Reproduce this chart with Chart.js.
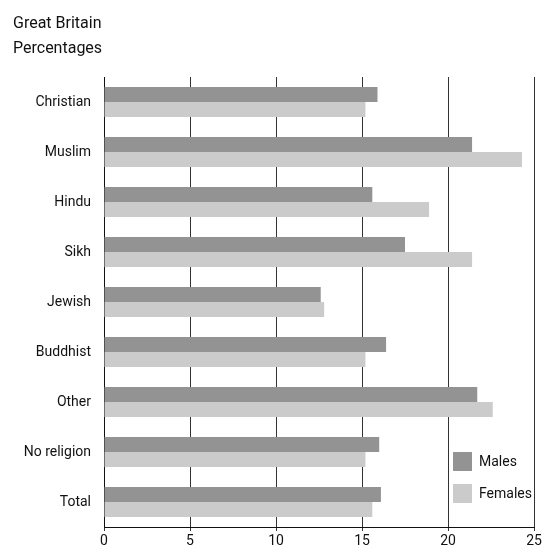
<!DOCTYPE html>
<html>
<head>
<meta charset="utf-8">
<script src="https://cdn.jsdelivr.net/npm/chart.js@4.4.1/dist/chart.umd.min.js"></script>
<style>
  html, body { margin: 0; padding: 0; background: #fff; }
  #wrap { width: 554px; height: 551px; position: relative; }
</style>
</head>
<body>
<div id="wrap"><canvas id="chart"></canvas></div>
<script>
// Données
const religions = ['Christian', 'Muslim', 'Hindu', 'Sikh', 'Jewish', 'Buddhist', 'Other', 'No religion', 'Total'];
const males = [15.9, 21.4, 15.6, 17.5, 12.6, 16.4, 21.7, 16.0, 16.1];
const females = [15.2, 24.3, 18.9, 21.4, 12.8, 15.2, 22.6, 15.2, 15.6];
const xTicks = [0, 5, 10, 15, 20, 25];
const titleLines = ['Great Britain', 'Percentages'];

const FONT = 'Roboto';

// Titre en haut à gauche
const titlePlugin = {
    id: 'titleLines',
    afterDraw(chart) {
        const ctx = chart.ctx;
        ctx.save();
        ctx.fillStyle = '#111';
        ctx.font = '16px ' + FONT;
        ctx.textBaseline = 'alphabetic';
        ctx.textAlign = 'left';
        ctx.fillText(titleLines[0], 13, 28);
        ctx.fillText(titleLines[1], 13, 53);
        ctx.restore();
    }
};

// Légende dans la zone du graphique (coin bas droit)
const legendPlugin = {
    id: 'insideLegend',
    afterDatasetsDraw(chart) {
        const ctx = chart.ctx;
        const area = chart.chartArea;
        const x = area.right - 81;
        let y = area.bottom - 75;
        ctx.save();
        ctx.font = '14px ' + FONT;
        ctx.textBaseline = 'middle';
        ctx.textAlign = 'left';
        chart.data.datasets.forEach((ds) => {
            ctx.fillStyle = ds.backgroundColor;
            ctx.fillRect(x, y, 19, 19);
            ctx.fillStyle = '#111';
            ctx.fillText(ds.label, x + 26, y + 10);
            y += 32;
        });
        ctx.restore();
    }
};

new Chart(document.getElementById('chart'), {
    type: 'bar',
    data: {
        labels: religions,
        datasets: [
            { label: 'Males', data: males, backgroundColor: '#939393' },
            { label: 'Females', data: females, backgroundColor: '#cbcbcb' }
        ]
    },
    options: {
        indexAxis: 'y',
        responsive: true,
        maintainAspectRatio: false,
        animation: false,
        categoryPercentage: 0.6,
        barPercentage: 1.0,
        layout: { padding: { top: 77, right: 20, left: 0, bottom: 0 } },
        plugins: {
            legend: { display: false },
            tooltip: { enabled: false }
        },
        scales: {
            x: {
                min: 0,
                max: 25,
                afterBuildTicks(scale) {
                    scale.ticks = xTicks.map(v => ({ value: v }));
                },
                afterFit(scale) { scale.height = 24; },
                grid: {
                    color: '#333',
                    lineWidth: 1,
                    drawTicks: true,
                    tickLength: 4
                },
                border: { color: '#111', width: 1 },
                ticks: {
                    color: '#111',
                    font: { family: FONT, size: 14 },
                    padding: 2,
                    maxRotation: 0
                }
            },
            y: {
                afterFit(scale) { scale.width = 104; },
                grid: { display: false, drawTicks: false },
                border: { color: '#111', width: 1 },
                ticks: {
                    color: '#111',
                    font: { family: FONT, size: 14 },
                    padding: 13
                }
            }
        }
    },
    plugins: [titlePlugin, legendPlugin]
});
</script>
</body>
</html>
